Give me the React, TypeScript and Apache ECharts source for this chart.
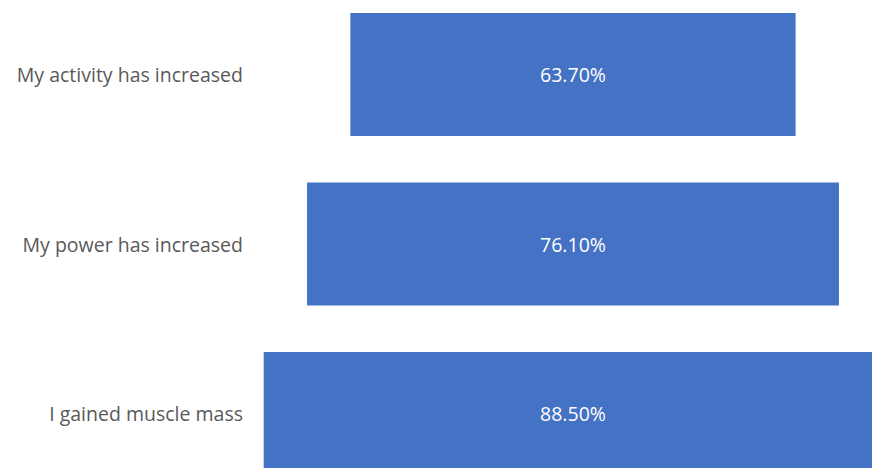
import React, { useEffect, useRef } from "react";
import * as echarts from "echarts";

const categories: string[] = [
  "My activity has increased",
  "My power has increased",
  "I gained muscle mass",
];
const values: number[] = [63.7, 76.1, 88.5];
const fullScale = 100;

export default function App() {
  const ref = useRef<HTMLDivElement>(null);
  useEffect(() => {
    if (!ref.current) return;
    const chart = echarts.init(ref.current, undefined, { renderer: "svg" });
    const offsets = values.map((v) => (fullScale - v) / 2);
    chart.setOption({
      animation: false,
      grid: { left: 250, right: 8, top: 0.75, bottom: 10.75, containLabel: false },
      xAxis: {
        type: "value",
        min: 3.79,
        max: 95.64,
        show: false,
        splitLine: { show: false },
      },
      yAxis: {
        type: "category",
        data: categories,
        inverse: true,
        axisLine: { show: false },
        axisTick: { show: false },
        axisLabel: {
          margin: 7,
          color: "#595959",
          fontSize: 19.5,
          fontFamily: "'Open Sans', sans-serif",
        },
      },
      series: [
        {
          type: "bar",
          stack: "funnel",
          data: offsets,
          barWidth: 123,
          itemStyle: { color: "transparent" },
          silent: true,
        },
        {
          type: "bar",
          stack: "funnel",
          data: values,
          barWidth: 123,
          itemStyle: { color: "#4472C4" },
          label: {
            show: true,
            position: "inside",
            color: "#ffffff",
            fontSize: 19.5,
            fontFamily: "'Open Sans', sans-serif",
            formatter: (p: any) => Number(p.value).toFixed(2) + "%",
          },
        },
      ],
    });
    return () => chart.dispose();
  }, []);
  return (
    <div
      style={{ position: "absolute", left: 0, top: 0, width: 872, height: 468, overflow: "hidden", background: "#ffffff" }}
    >
      <div
        ref={ref}
        style={{ position: "absolute", left: 0, top: -11, width: 900, height: 520 }}
      />
    </div>
  );
}
